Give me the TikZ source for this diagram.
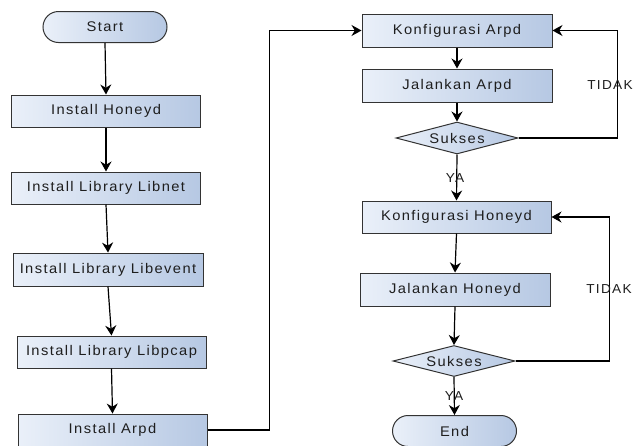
\documentclass[tikz,border=0pt]{standalone}
\usepackage{fontspec}
\setmainfont{Liberation Sans}[FakeStretch=1.05,LetterSpace=10]
\usepackage{xcolor}
\usepackage{tikz}
\usetikzlibrary{arrows.meta,shapes.geometric,shapes.misc}
\definecolor{fillL}{HTML}{EAF0F9}
\definecolor{fillR}{HTML}{B6C8E3}
\definecolor{edge}{HTML}{333333}
\definecolor{ink}{HTML}{1E1E1E}
\tikzset{
  box/.style={rectangle, draw=edge, line width=1pt, left color=fillL, right color=fillR,
    minimum width=189pt, minimum height=32pt, inner sep=0pt, text=ink, font=\fontsize{14}{16}\selectfont},
  term/.style={rounded rectangle, draw=edge, line width=1pt, left color=fillL, right color=fillR,
    minimum width=124pt, minimum height=31pt, inner sep=0pt, text=ink, font=\fontsize{14}{16}\selectfont},
  dec/.style={diamond, draw=edge, line width=1pt, left color=fillL, right color=fillR,
    aspect=3.8, minimum width=122pt, minimum height=32pt, inner sep=0pt, text=ink, font=\fontsize{14}{16}\selectfont},
  arr/.style={draw=black, line width=1.2pt, -{Stealth[length=10pt,width=11pt]}},
  lab/.style={text=ink, font=\fontsize{13}{15}\selectfont, inner sep=0pt},
}
\begin{document}
\begin{tikzpicture}[x=1pt,y=-1pt]
  \useasboundingbox (0,0) rectangle (637,445);
  % left column
  \node[term] (start) at (105,27) {Start};
  \node[box] (hon) at (106,111) {Install Honeyd};
  \node[box] (libnet) at (106,188) {Install Library Libnet};
  \node[box, minimum width=190pt, minimum height=33pt] (libevent) at (108,269.5) {Install Library Libevent};
  \node[box] (libpcap) at (111.5,352) {Install Library Libpcap};
  \node[box] (arpd) at (112.5,430) {Install Arpd};
  % right column
  \node[box, minimum width=190pt, minimum height=33pt] (karpd) at (457,30.5) {Konfigurasi Arpd};
  \node[box, minimum width=190pt, minimum height=33pt] (jarpd) at (457,85.5) {Jalankan Arpd};
  \node[dec] (suk1) at (457,138) {Sukses};
  \node[box] (khon) at (456.5,217) {Konfigurasi Honeyd};
  \node[box, minimum width=190pt, minimum height=33pt] (jhon) at (455,289.5) {Jalankan Honeyd};
  \node[dec, minimum height=31pt] (suk2) at (454,361) {Sukses};
  \node[term] (end) at (454.5,431) {End};

  \draw[arr] (start.south) -- (hon.north);
  \draw[arr] (hon.south) -- (libnet.north);
  \draw[arr] (libnet.south) -- (libevent.north);
  \draw[arr] (libevent.south) -- (libpcap.north);
  \draw[arr] (libpcap.south) -- (arpd.north);
  \draw[arr] (arpd.east) -- ++(62,0) |- (karpd.west);

  \draw[arr] (karpd.south) -- (jarpd.north);
  \draw[arr] (jarpd.south) -- (suk1.north);
  \draw[arr] (suk1.south) -- (khon.north);
  \draw[arr] (suk1.east) -- ++(99,0) |- (karpd.east);
  \draw[arr] (khon.south) -- (jhon.north);
  \draw[arr] (jhon.south) -- (suk2.north);
  \draw[arr] (suk2.south) -- (end.north);
  \draw[arr] (suk2.east) -- ++(94,0) |- (khon.east);

  \node[lab] at (610,85) {TIDAK};
  \node[lab] at (609,289) {TIDAK};
  \node[lab] at (455,178) {YA};
  \node[lab] at (454,396) {YA};
\end{tikzpicture}
\end{document}
